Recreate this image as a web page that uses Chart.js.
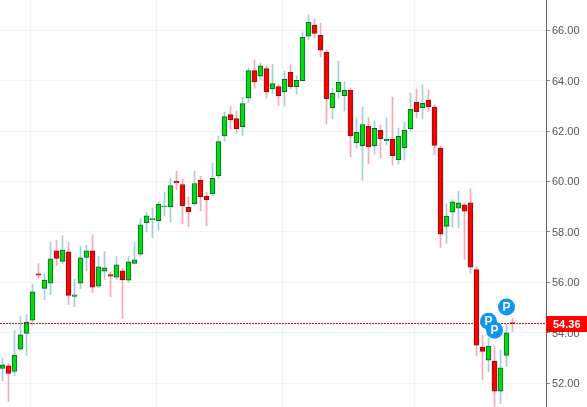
<!DOCTYPE html>
<html>
<head>
    <title>Candlestick Chart</title>
    <script src="https://cdn.jsdelivr.net/npm/chart.js"></script>
    <style>
        body { margin: 0; background-color: #ffffff; }
        canvas { display: block; }
    </style>
</head>
<body>
    <canvas id="priceChart" width="587" height="407"></canvas>

    <script>
        const opens = [52.58, 52.68, 52.46, 53.34, 53.97, 54.50, 56.33, 55.76, 55.96, 57.25,
            56.83, 57.21, 55.44, 55.96, 56.99, 57.25, 55.84, 56.44, 56.30, 56.20,
            56.45, 56.08, 56.75, 57.11, 58.36, 58.48, 58.44, 59.00, 59.00, 60.00,
            59.88, 58.97, 59.12, 60.04, 59.41, 59.51, 60.22, 61.81, 62.65, 62.49,
            62.17, 63.31, 64.40, 64.18, 64.48, 63.67, 63.76, 63.56, 64.33, 63.76,
            64.00, 65.76, 66.20, 65.80, 65.13, 62.93, 63.56, 63.40, 63.62, 61.54,
            61.42, 62.19, 61.42, 62.03, 61.62, 61.67, 60.86, 61.34, 62.09, 63.14,
            62.93, 63.22, 62.95, 61.32, 58.22, 58.78, 58.94, 59.07, 59.15, 56.50,
            53.43, 52.91, 52.87, 51.68, 53.10, 54.40];
        const highs = [52.99, 52.79, 54.08, 54.64, 54.72, 55.91, 56.74, 56.34, 57.58, 57.66,
            57.85, 57.58, 56.11, 57.42, 57.46, 57.89, 57.02, 57.22, 56.42, 57.02,
            56.54, 57.02, 57.58, 58.53, 58.77, 58.94, 59.21, 59.58, 60.13, 60.41,
            60.09, 59.38, 60.41, 60.21, 59.58, 60.73, 61.80, 62.75, 62.98, 62.79,
            63.34, 64.49, 64.82, 64.70, 64.58, 64.65, 63.85, 64.38, 64.62, 64.19,
            65.93, 66.61, 66.45, 66.28, 65.22, 63.70, 64.78, 63.95, 63.71, 62.52,
            62.95, 62.52, 62.40, 62.23, 62.52, 63.35, 62.12, 62.36, 63.51, 63.67,
            63.83, 63.63, 63.04, 61.42, 59.11, 59.28, 59.60, 59.16, 59.71, 56.64,
            53.90, 53.79, 53.46, 53.32, 54.32, 54.56];
        const lows = [52.09, 51.27, 52.29, 53.30, 53.10, 54.29, 56.16, 55.31, 55.51, 56.66,
            56.74, 55.11, 55.03, 55.75, 56.46, 55.59, 55.79, 56.11, 55.43, 56.11,
            54.56, 56.00, 56.75, 57.02, 58.00, 57.76, 58.07, 58.63, 58.39, 59.67,
            58.32, 58.20, 59.06, 58.83, 58.24, 59.42, 60.13, 61.60, 62.07, 61.91,
            61.83, 63.14, 63.70, 64.04, 63.31, 63.49, 63.02, 62.99, 63.67, 63.47,
            64.00, 65.62, 65.70, 64.94, 62.28, 62.48, 63.31, 62.79, 60.98, 61.32,
            60.05, 60.70, 61.09, 60.93, 61.44, 60.65, 60.69, 60.85, 62.01, 62.52,
            62.48, 62.76, 61.06, 57.38, 57.54, 58.18, 58.17, 56.91, 56.35, 53.09,
            52.13, 52.45, 51.07, 51.18, 52.66, 54.05];
        const closes = [52.72, 52.38, 53.11, 53.91, 54.42, 55.62, 56.28, 56.09, 56.93, 56.95,
            57.28, 55.48, 55.50, 56.97, 57.25, 55.80, 56.61, 56.57, 56.24, 56.69,
            56.09, 56.81, 56.89, 58.28, 58.64, 58.53, 59.09, 59.02, 59.84, 59.95,
            59.04, 58.80, 59.92, 59.39, 59.27, 60.12, 61.58, 62.57, 62.44, 62.09,
            63.09, 64.40, 63.95, 64.59, 63.55, 63.88, 63.39, 64.05, 63.76, 64.01,
            65.72, 66.32, 65.87, 65.21, 63.28, 63.50, 63.93, 63.62, 61.81, 61.95,
            62.26, 61.38, 62.11, 61.70, 61.67, 61.02, 61.79, 62.03, 62.86, 62.77,
            63.10, 62.97, 61.43, 57.91, 58.63, 59.19, 59.15, 58.82, 56.60, 53.50,
            53.26, 53.47, 51.68, 52.60, 53.99, 54.36];

        const yTicks = [52, 54, 56, 58, 60, 62, 64, 66];
        // month boundaries, sit just right of the candle
        const monthLines = [15.17, 36.17, 57.17, 80.17];
        const lastPrice = 54.36;
        const markerDays = [81, 82, 84];
        const markerPrices = [54.45, 54.10, 55.02];

        const xMin = -2.5 / 6;
        const xMax = 543.5 / 6;

        const isUp = i => closes[i] >= opens[i];

        // white P on the blue markers and the red price tag on the axis
        const labelsPlugin = {
            id: 'labels',
            afterDraw(chart) {
                const ctx = chart.ctx;
                const y = chart.scales.y.getPixelForValue(lastPrice);
                ctx.save();
                ctx.fillStyle = '#ff0000';
                ctx.fillRect(546, Math.round(y) - 8, 41, 16);
                ctx.fillStyle = '#ffffff';
                ctx.font = 'bold 11px "Liberation Sans"';
                ctx.textAlign = 'left';
                ctx.textBaseline = 'middle';
                ctx.fillText(lastPrice.toFixed(2), 553, Math.round(y) + 0.5);

                ctx.font = 'bold 12px "Liberation Sans"';
                ctx.textAlign = 'center';
                chart.getDatasetMeta(3).data.forEach(pt => {
                    ctx.fillText('P', pt.x, pt.y + 0.5);
                });
                ctx.restore();
            }
        };

        new Chart(document.getElementById('priceChart').getContext('2d'), {
            type: 'bar',
            data: {
                datasets: [
                    {
                        label: 'Wick',
                        data: highs.map((h, i) => ({ x: i, y: [lows[i], h] })),
                        backgroundColor: highs.map((h, i) => isUp(i) ? '#a3cfd6' : '#fba6b5'),
                        borderWidth: 0,
                        barThickness: 1,
                        grouped: false,
                        order: 4
                    },
                    {
                        label: 'Body',
                        data: opens.map((o, i) => ({ x: i, y: [o, closes[i]] })),
                        backgroundColor: opens.map((o, i) => isUp(i) ? '#00dc0c' : '#ff0000'),
                        borderColor: opens.map((o, i) => isUp(i) ? '#1c5b36' : '#771a1a'),
                        borderWidth: 1,
                        borderSkipped: false,
                        barThickness: 5,
                        grouped: false,
                        order: 3
                    },
                    {
                        type: 'line',
                        label: 'Last',
                        data: [{ x: xMin, y: lastPrice }, { x: xMax, y: lastPrice }],
                        borderColor: '#dd0000',
                        borderWidth: 1,
                        borderDash: [2, 1],
                        pointRadius: 0,
                        order: 2
                    },
                    {
                        type: 'scatter',
                        label: 'Markers',
                        data: markerDays.map((d, i) => ({ x: d, y: markerPrices[i] })),
                        backgroundColor: '#0d96f2',
                        pointRadius: 8.5,
                        pointBorderWidth: 0,
                        order: 1
                    }
                ]
            },
            options: {
                responsive: false,
                animation: false,
                layout: { padding: 0, autoPadding: false },
                plugins: {
                    legend: { display: false },
                    tooltip: { enabled: false }
                },
                scales: {
                    x: {
                        type: 'linear',
                        offset: false,
                        min: xMin,
                        max: xMax,
                        afterBuildTicks: scale => {
                            scale.ticks = monthLines.map(v => ({ value: v }));
                        },
                        ticks: { display: false, autoSkip: false },
                        border: { display: false },
                        grid: { color: '#f3f3f3', drawTicks: false }
                    },
                    y: {
                        position: 'right',
                        min: 51.05,
                        max: 67.2,
                        afterBuildTicks: scale => {
                            scale.ticks = yTicks.map(v => ({ value: v }));
                        },
                        afterFit: scale => {
                            scale.width = 41;
                            // plot runs right up to the window edges
                            scale.paddingTop = 0;
                            scale.paddingBottom = 0;
                        },
                        ticks: {
                            autoSkip: false,
                            padding: 2,
                            labelOffset: 1,
                            color: '#555555',
                            font: { family: 'Liberation Sans', size: 11 },
                            callback: v => v.toFixed(2)
                        },
                        border: { color: '#666666' },
                        grid: { color: '#f3f3f3', tickColor: '#888888', tickLength: 4 }
                    }
                }
            },
            plugins: [labelsPlugin]
        });
    </script>
</body>
</html>
